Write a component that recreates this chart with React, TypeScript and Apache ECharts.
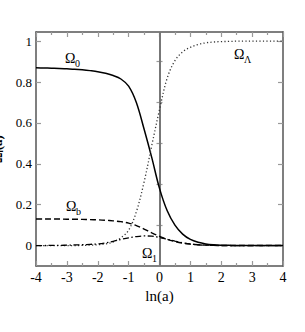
import React, { useEffect, useRef } from "react";
import * as echarts from "echarts";

const xs = [-4, -3.75, -3.5, -3.25, -3, -2.75, -2.5, -2.25, -2, -1.75, -1.5, -1.25, -1, -0.75, -0.5, -0.25, 0, 0.25, 0.5, 0.75, 1, 1.25, 1.5, 1.75, 2, 2.25, 2.5, 2.75, 3, 3.25, 3.5, 3.75, 4];
const omega0 = [0.87, 0.869, 0.868, 0.867, 0.865, 0.863, 0.86, 0.856, 0.851, 0.843, 0.832, 0.815, 0.78, 0.7, 0.57, 0.43, 0.28, 0.17, 0.1, 0.056, 0.03, 0.016, 0.008, 0.004, 0.002, 0.001, 0, 0, 0, 0, 0, 0, 0];
const omegaL = [0, 0, 0, 0, 0, 0, 0.001, 0.002, 0.004, 0.008, 0.018, 0.038, 0.075, 0.165, 0.31, 0.49, 0.665, 0.82, 0.905, 0.948, 0.97, 0.984, 0.992, 0.996, 0.998, 0.999, 1, 1, 1, 1, 1, 1, 1];
const omegaB = [0.13, 0.13, 0.13, 0.13, 0.129, 0.129, 0.128, 0.127, 0.126, 0.124, 0.121, 0.117, 0.11, 0.098, 0.081, 0.062, 0.045, 0.031, 0.02, 0.012, 0.007, 0.004, 0.002, 0.001, 0, 0, 0, 0, 0, 0, 0, 0, 0];
const omega1 = [0, 0, 0.001, 0.001, 0.002, 0.003, 0.004, 0.006, 0.008, 0.013, 0.021, 0.03, 0.038, 0.044, 0.047, 0.046, 0.04, 0.031, 0.022, 0.014, 0.008, 0.004, 0.002, 0.001, 0, 0, 0, 0, 0, 0, 0, 0, 0];
const yMajor = [0, 0.2, 0.4, 0.6, 0.8, 1];
const yMinor = [0.1, 0.3, 0.5, 0.7, 0.9];

const FONT = "Liberation Serif";

const pairs = (ys: number[]) => xs.map((x, i) => [x, ys[i]]);

function omegaLabel(x: number, y: number, sub: string) {
  return {
    type: "group",
    x,
    y,
    children: [
      { type: "text", x: 0, y: 0, style: { text: "Ω", font: `14px ${FONT}`, fill: "#000", textVerticalAlign: "top" } },
      { type: "text", x: 10, y: 7, style: { text: sub, font: `10px ${FONT}`, fill: "#000", textVerticalAlign: "top" } },
    ],
  };
}

export default function App() {
  const ref = useRef<HTMLDivElement>(null);
  useEffect(() => {
    if (!ref.current) return;
    document.body.style.margin = "0";
    const chart = echarts.init(ref.current, null, { renderer: "svg" });
    const frame = { show: true, onZero: false, lineStyle: { color: "#555", width: 1.5 } };
    const tickStyle = { color: "#999", width: 1.2 };
    const label = { fontFamily: FONT, fontSize: 14, color: "#000" };
    const lineSeries = (name: string, ys: number[], type: any, width: number, color: string, extra: any = {}) => ({
      name,
      type: "line",
      data: pairs(ys),
      showSymbol: false,
      smooth: 0.35,
      lineStyle: { color, width, type },
      z: 3,
      ...extra,
    });
    chart.setOption({
      animation: false,
      grid: { left: 36, right: 22, top: 32, bottom: 66, containLabel: false, outerBoundsMode: "none" },
      xAxis: [
        {
          type: "value", min: -4, max: 4, interval: 1, position: "bottom",
          axisLine: frame,
          axisTick: { show: true, inside: true, length: 5, lineStyle: tickStyle },
          minorTick: { show: true, splitNumber: 2, length: 3, lineStyle: tickStyle },
          splitLine: { show: false },
          axisLabel: { ...label, margin: 4 },
          name: "ln(a)", nameLocation: "middle", nameGap: 15,
          nameTextStyle: { fontFamily: FONT, fontSize: 15, color: "#000", verticalAlign: "top" },
        },
        {
          type: "value", min: -4, max: 4, interval: 1, position: "top",
          axisLine: frame,
          axisTick: { show: true, inside: true, length: 5, lineStyle: tickStyle },
          minorTick: { show: true, splitNumber: 2, length: 3, lineStyle: tickStyle },
          splitLine: { show: false },
          axisLabel: { show: false },
        },
      ],
      yAxis: [
        {
          type: "value", min: -0.1, max: 1.045, position: "left",
          axisLine: frame,
          axisTick: { show: true, inside: true, length: 5, lineStyle: tickStyle, customValues: yMajor },
          splitLine: { show: false },
          axisLabel: { ...label, fontSize: 13, margin: 4, customValues: yMajor, formatter: (v: number) => String(+v.toFixed(1)) },
          name: "{o|Ω}{s|i}{o|(a)}",
          nameLocation: "middle",
          nameRotate: 90,
          nameGap: -8,
          nameTextStyle: {
            rich: {
              o: { fontFamily: FONT, fontSize: 13, fontWeight: "bold", color: "#000", lineHeight: 13, verticalAlign: "top" },
              s: { fontFamily: FONT, fontSize: 8, fontWeight: "bold", color: "#000", lineHeight: 8, verticalAlign: "top", padding: [6, 0, 0, 0] },
            },
          },
        },
        {
          type: "value", min: -0.1, max: 1.045, position: "right",
          axisLine: frame,
          axisTick: { show: true, inside: true, length: 5, lineStyle: tickStyle, customValues: yMajor },
          splitLine: { show: false },
          axisLabel: { show: false },
        },
        {
          type: "value", min: -0.1, max: 1.045, position: "left",
          axisLine: { show: false },
          axisTick: { show: true, inside: true, length: 3, lineStyle: tickStyle, customValues: yMinor },
          splitLine: { show: false },
          axisLabel: { show: false },
        },
        {
          type: "value", min: -0.1, max: 1.045, position: "right",
          axisLine: { show: false },
          axisTick: { show: true, inside: true, length: 3, lineStyle: tickStyle, customValues: yMinor },
          splitLine: { show: false },
          axisLabel: { show: false },
        },
      ],
      series: [
        lineSeries("Ω0", omega0, "solid", 1.5, "#000", {
          markLine: {
            silent: true, symbol: "none", label: { show: false },
            lineStyle: { color: "#777", width: 2, type: "solid" },
            data: [{ xAxis: 0 }],
            z: 2,
          },
        }),
        lineSeries("ΩΛ", omegaL, [1.2, 2.3], 1.3, "#333"),
        lineSeries("Ωb", omegaB, [6, 3], 1.4, "#000"),
        lineSeries("Ω1", omega1, [6, 2.5, 1.5, 2.5], 1.3, "#000"),
      ],
      graphic: [
        omegaLabel(65, 51, "0"),
        omegaLabel(234, 47, "Λ"),
        omegaLabel(66, 199, "b"),
        omegaLabel(142, 246, "1"),
      ],
    });
    return () => chart.dispose();
  }, []);
  return <div ref={ref} style={{ width: 305, height: 332 }} />;
}
